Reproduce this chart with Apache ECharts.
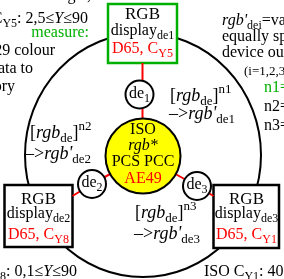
<!DOCTYPE html>
<html>
<head>
<meta charset="utf-8">
<script src="https://cdn.jsdelivr.net/npm/echarts@6/dist/echarts.min.js"></script>
<style>
  html, body { margin: 0; padding: 0; background: #fff; }
  #chart { width: 284px; height: 279px; }
</style>
</head>
<body>
<div id="chart"></div>
<script>
// diagram content
var deviceNames = ['de1', 'de2', 'de3']
var contrastSteps = ['Y5', 'Y8', 'Y1']
var whitePoint = 'D65'
var centreLines = ['ISO', 'rgb*', 'PCS PCC', 'AE49']
var exponents = ['n1', 'n2', 'n3']
var rangeLabels = ['2,5≤', '0,1≤', '40≤']
var leftNotes = ['angle,', 'measure:', '729 colour', 'data to', 'memory']
var rightNotes = ['equally spaced', 'device output', '(i=1,2,3)']

// layout (pixels of the 284x279 page)
var FAMILY = '"Liberation Serif", "Times New Roman", serif'
var RED = '#ff0000'
var GREEN = '#00b000'
var loop = { cx: 143, cy: 155, rx: 118, ry: 122 }
var boxes = [
  { x: 108, y: 4, w: 69, h: 59, color: GREEN, cx: 142.5, base: [20, 36, 54] },
  { x: 4.5, y: 185, w: 68, h: 62, color: '#000', cx: 38.5, base: [205, 219, 240] },
  { x: 213.5, y: 185, w: 65.5, h: 63, color: '#000', cx: 246.5, base: [205, 219, 240] }
]
var devs = [{ cx: 139.5, cy: 94.5 }, { cx: 92, cy: 184 }, { cx: 197, cy: 186 }]
var devR = 14
var pcs = { cx: 143, cy: 156, r: 37.5, base: [135, 151, 167, 184] }
var arrows = [{ x: 170, base: [102, 120] }, { x: 30, base: [139, 160] }, { x: 135, base: [219, 240] }]

var measureCtx = document.createElement('canvas').getContext('2d')

// items drawn in order by one custom series
var items = []
items.push({ kind: 'ellipse', x: loop.cx, y: loop.cy })
boxes.forEach(function (b) {
  items.push({ kind: 'rect', x: b.x, y: b.y, w: b.w, h: b.h, color: b.color })
})
// red links (drawn under the circles)
items.push({ kind: 'line', x: 142.5, y: 63, x2: 142.5, y2: pcs.cy })
items.push({ kind: 'line', x: devs[1].cx, y: devs[1].cy, x2: pcs.cx, y2: pcs.cy })
items.push({ kind: 'line', x: devs[2].cx, y: devs[2].cy, x2: pcs.cx, y2: pcs.cy })
items.push({ kind: 'line', x: devs[1].cx, y: devs[1].cy, x2: 72.5, y2: 196 })
items.push({ kind: 'line', x: devs[2].cx, y: devs[2].cy, x2: 213.5, y2: 196 })
devs.forEach(function (d) {
  items.push({ kind: 'circle', x: d.cx, y: d.cy, r: devR, fill: '#fff' })
})
items.push({ kind: 'circle', x: pcs.cx, y: pcs.cy, r: pcs.r, fill: '#ffff00' })

function text (x, y, align, size, segs) {
  items.push({ kind: 'text', x: x, y: y, align: align, size: size, segs: segs })
}

// box labels
boxes.forEach(function (b, i) {
  text(b.cx, b.base[0], 'center', 17, [['RGB', '']])
  text(b.cx, b.base[1], 'center', 16, [['display', ''], [deviceNames[i], 's']])
  text(b.cx, b.base[2], 'center', 16, [[whitePoint + ', C', 'r'], [contrastSteps[i], 'sr']])
})
// device circles
devs.forEach(function (d, i) {
  text(d.cx, d.cy + 4.5, 'center', 16, [['de', ''], [String(i + 1), 's']])
})
// PCS circle
centreLines.forEach(function (t, i) {
  text(pcs.cx, pcs.base[i], 'center', 16, [[t, i === 1 ? 'i' : (i === 3 ? 'r' : '')]])
})
// transfer labels
arrows.forEach(function (a, i) {
  text(a.x, a.base[0], 'left', 18, [['[', ''], ['rgb', 'i'], ['de', 's'], [']', ''], [exponents[i], 'p']])
  text(a.x - (i === 1 ? 5 : 1), a.base[1], 'left', 18, [['–>', ''], ['rgb\'', 'i'], [deviceNames[i], 's']])
})
// left notes (cut at the page edge)
text(91, 1, 'right', 16, [[leftNotes[0], '']])
text(88, 24, 'right', 16, [['ISO C', ''], [contrastSteps[0], 's'], [': ' + rangeLabels[0], ''], ['Y', 'i'], ['≤90', '']])
text(89, 38, 'right', 16, [[leftNotes[1], 'g']])
text(55, 56, 'right', 16, [[leftNotes[2], '']])
text(33, 74, 'right', 16, [[leftNotes[3], '']])
text(15, 92, 'right', 16, [[leftNotes[4], '']])
text(77, 277, 'right', 16, [['ISO C', ''], [contrastSteps[1], 's'], [': ' + rangeLabels[1], ''], ['Y', 'i'], ['≤90', '']])
text(204, 277, 'left', 16, [['ISO C', ''], [contrastSteps[2], 's'], [': ' + rangeLabels[2], ''], ['Y', 'i'], ['≤90', '']])
// right notes
text(222, 26, 'left', 16, [['rgb\'', 'i'], ['dei', 's'], ['=values', '']])
text(222, 42, 'left', 16, [[rightNotes[0], '']])
text(222, 58, 'left', 16, [[rightNotes[1], '']])
text(244, 76, 'left', 13, [[rightNotes[2], '']])
exponents.forEach(function (n, i) {
  text(264, 93 + i * 19, 'left', 16, [[n + '=', i === 0 ? 'g' : '']])
})

function segStyle (size, flag) {
  var small = flag.indexOf('s') >= 0 || flag.indexOf('p') >= 0
  var fs = small ? Math.round(size * 0.72) : size
  var dy = flag.indexOf('s') >= 0 ? size * 0.22 : (flag.indexOf('p') >= 0 ? -size * 0.42 : 0)
  var color = flag.indexOf('r') >= 0 ? RED : (flag.indexOf('g') >= 0 ? GREEN : '#000')
  var italic = flag.indexOf('i') >= 0
  return { fs: fs, dy: dy, color: color, italic: italic }
}

function renderItem (params, api) {
  var it = items[api.value(2)]
  var p = api.coord([api.value(0), api.value(1)])
  if (it.kind === 'ellipse') {
    var s = api.size([loop.rx, loop.ry])
    return {
      type: 'circle', x: p[0], y: p[1], scaleY: s[1] / s[0],
      shape: { cx: 0, cy: 0, r: s[0] },
      style: { fill: 'none', stroke: '#000', lineWidth: 2, strokeNoScale: true }
    }
  }
  if (it.kind === 'rect') {
    var sz = api.size([it.w, it.h])
    return {
      type: 'rect', shape: { x: p[0], y: p[1], width: sz[0], height: sz[1] },
      style: { fill: '#fff', stroke: it.color, lineWidth: 2.5 }
    }
  }
  if (it.kind === 'line') {
    var q = api.coord([it.x2, it.y2])
    return {
      type: 'line', shape: { x1: p[0], y1: p[1], x2: q[0], y2: q[1] },
      style: { stroke: RED, lineWidth: 2 }
    }
  }
  if (it.kind === 'circle') {
    return {
      type: 'circle', shape: { cx: p[0], cy: p[1], r: api.size([it.r, it.r])[0] },
      style: { fill: it.fill, stroke: '#000', lineWidth: 2 }
    }
  }
  // text made of runs (normal / italic / sub / sup)
  var runs = it.segs.map(function (sg) {
    var st = segStyle(it.size, sg[1])
    measureCtx.font = (st.italic ? 'italic ' : '') + st.fs + 'px ' + FAMILY
    st.text = sg[0]
    st.w = measureCtx.measureText(sg[0]).width
    return st
  })
  var total = runs.reduce(function (a, r) { return a + r.w }, 0)
  var x = it.align === 'left' ? p[0] : (it.align === 'center' ? p[0] - total / 2 : p[0] - total)
  var children = runs.map(function (r) {
    var el = {
      type: 'text', x: x, y: p[1] + r.dy - 0.3375 * r.fs,
      style: {
        text: r.text, fill: r.color, fontSize: r.fs, fontFamily: FAMILY,
        fontStyle: r.italic ? 'italic' : 'normal', align: 'left', verticalAlign: 'middle'
      }
    }
    x += r.w
    return el
  })
  return { type: 'group', children: children }
}

var chart = echarts.init(document.getElementById('chart'))
chart.setOption({
  animation: false,
  grid: { left: 0, right: 0, top: 0, bottom: 0 },
  xAxis: { type: 'value', min: 0, max: 284, show: false },
  yAxis: { type: 'value', min: 0, max: 279, inverse: true, show: false },
  series: [{
    type: 'custom',
    clip: false,
    silent: true,
    renderItem: renderItem,
    data: items.map(function (it, i) { return [it.x, it.y, i] })
  }]
})
</script>
</body>
</html>
